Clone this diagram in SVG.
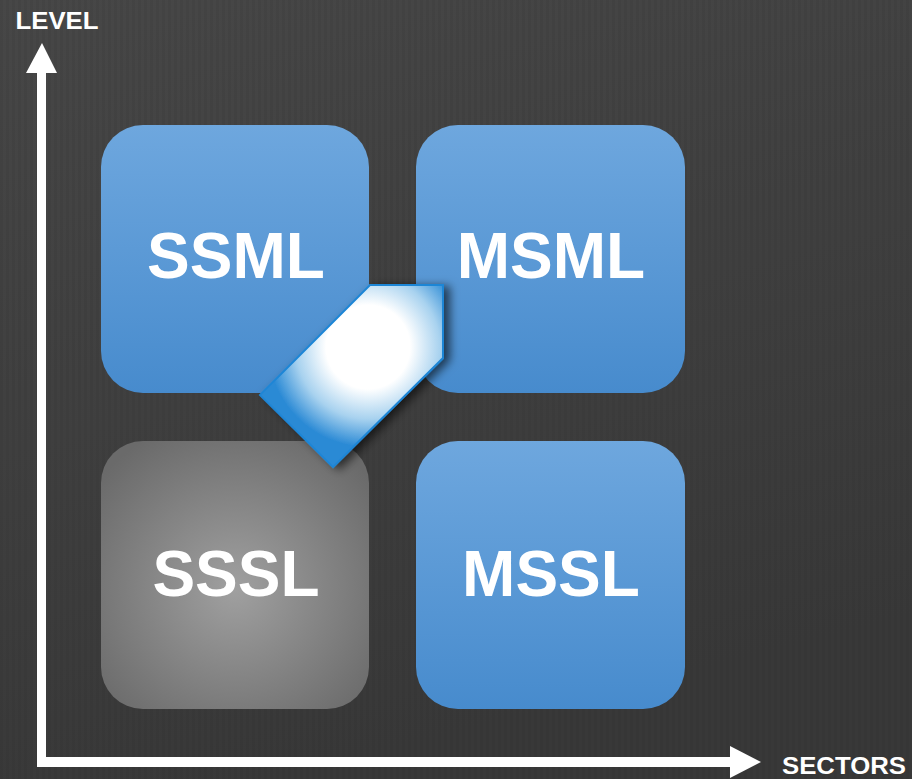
<svg xmlns="http://www.w3.org/2000/svg" width="912" height="779" viewBox="0 0 912 779">
<defs>
<linearGradient id="bg" x1="0" y1="0" x2="0.3" y2="1">
<stop offset="0" stop-color="#474747"/>
<stop offset="1" stop-color="#383838"/>
</linearGradient>
<pattern id="stripes" width="6" height="10" patternUnits="userSpaceOnUse">
<rect x="0" y="0" width="3" height="10" fill="#000" opacity="0.04"/>
</pattern>
<linearGradient id="blue" x1="0" y1="0" x2="0" y2="1">
<stop offset="0" stop-color="#6ea7de"/>
<stop offset="1" stop-color="#478bcd"/>
</linearGradient>
<radialGradient id="gray" cx="0.5" cy="0.55" r="0.65">
<stop offset="0" stop-color="#a0a0a0"/>
<stop offset="1" stop-color="#6a6a6a"/>
</radialGradient>
<radialGradient id="tag" gradientUnits="userSpaceOnUse" cx="368" cy="347" r="100">
<stop offset="0" stop-color="#ffffff"/>
<stop offset="0.42" stop-color="#ffffff"/>
<stop offset="0.72" stop-color="#a8d2ef"/>
<stop offset="1" stop-color="#2b8ad5"/>
</radialGradient>
<filter id="shadow" x="-30%" y="-30%" width="160%" height="160%">
<feGaussianBlur in="SourceAlpha" stdDeviation="5"/>
<feOffset dx="6" dy="2" result="b"/>
<feFlood flood-color="#000" flood-opacity="0.6"/>
<feComposite in2="b" operator="in"/>
<feMerge><feMergeNode/><feMergeNode in="SourceGraphic"/></feMerge>
</filter>
</defs>
<style>
.lbl{font-family:"Liberation Sans",Arial,sans-serif;font-weight:bold;fill:#fff;text-anchor:middle}
.big{font-size:64px}
.ax{font-size:24px}
.axis{fill:#fff}
</style>
<rect width="912" height="779" fill="url(#bg)"/>
<rect width="912" height="779" fill="url(#stripes)"/>

<g id="SSML">
<rect x="101" y="125" width="268" height="268" rx="42" fill="url(#blue)"/>
<text class="lbl big" x="236" y="278">SSML</text>
</g>
<g id="MSML">
<rect x="416" y="125" width="269" height="268" rx="42" fill="url(#blue)"/>
<text class="lbl big" x="551" y="278">MSML</text>
</g>
<g id="SSSL">
<rect x="101" y="441" width="268" height="268" rx="42" fill="url(#gray)"/>
<text class="lbl big" x="236" y="596">SSSL</text>
</g>
<g id="MSSL">
<rect x="416" y="441" width="269" height="268" rx="42" fill="url(#blue)"/>
<text class="lbl big" x="551" y="596">MSSL</text>
</g>

<g id="connectors">
<g id="tag-arrow">
<polygon points="370,285 443,285 443,358 333,467 260,395" fill="url(#tag)" stroke="#1f86d6" stroke-width="2" filter="url(#shadow)"/>
</g>
<g id="axes">
<polygon class="axis" points="37,767 37,73 26,73 42,43 57,73 46,73 46,757 730,757 730,746 761,762 730,778 730,767"/>
</g>
</g>

<g id="LEVEL"><text class="lbl ax" x="57" y="29" textLength="83" lengthAdjust="spacingAndGlyphs">LEVEL</text></g>
<g id="SECTORS"><text class="lbl ax" x="844" y="774" textLength="124" lengthAdjust="spacingAndGlyphs">SECTORS</text></g>
</svg>
